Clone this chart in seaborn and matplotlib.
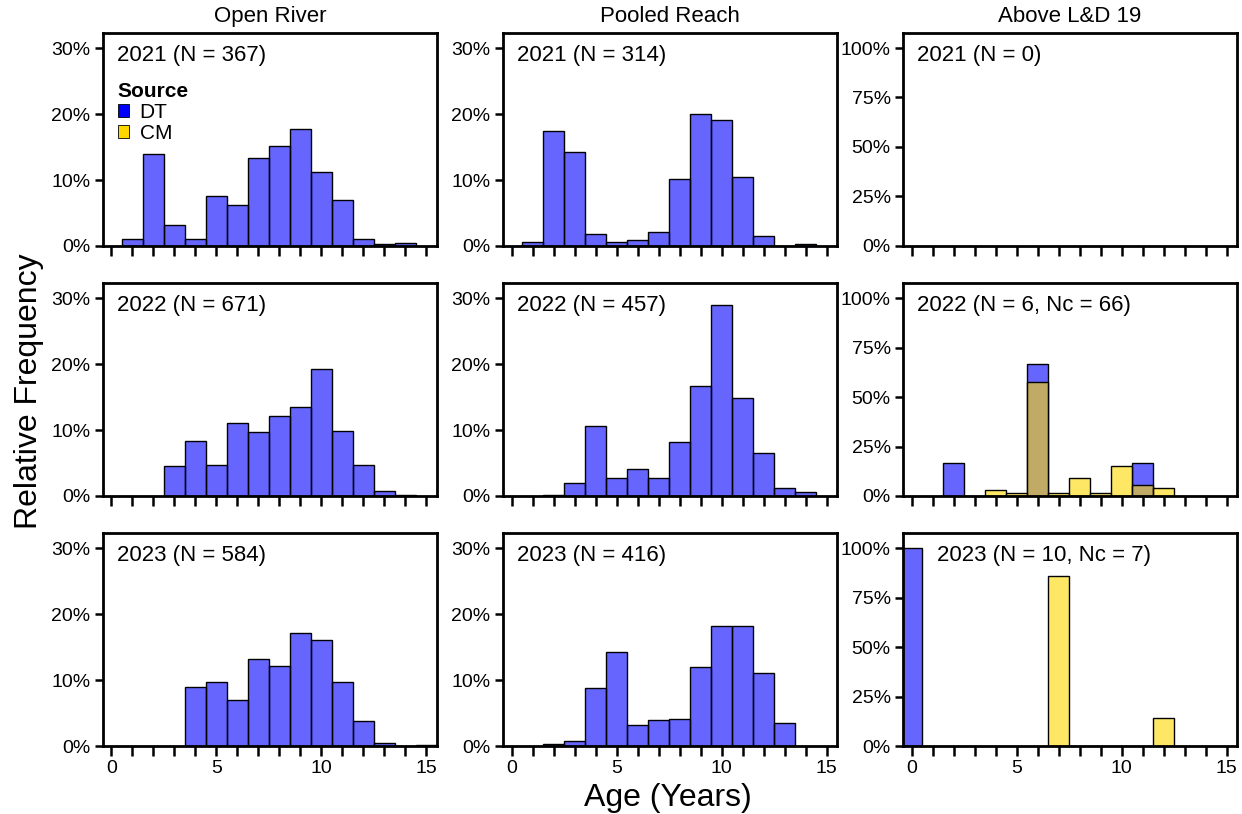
import numpy as np
import pandas as pd
import matplotlib
matplotlib.use('Agg')
import matplotlib.pyplot as plt
import seaborn as sns
from matplotlib.patches import Patch
from matplotlib.ticker import PercentFormatter, MultipleLocator

sns.set_style('white')
plt.rcParams['font.family'] = ['Liberation Sans', 'DejaVu Sans']
plt.rcParams['text.color'] = 'black'
plt.rcParams['axes.labelcolor'] = 'black'
plt.rcParams['xtick.color'] = 'black'
plt.rcParams['ytick.color'] = 'black'

# ages (years) and relative frequencies (%)
ages = list(range(0, 16))

open_2021 = [0, 1.0, 14.0, 3.2, 1.0, 7.6, 6.2, 13.3, 15.2, 17.7, 11.2, 7.0, 1.0, 0.3, 0.5, 0]
open_2022 = [0, 0, 0, 4.5, 8.3, 4.7, 11.0, 9.7, 12.1, 13.5, 19.2, 9.9, 4.7, 0.8, 0.15, 0]
open_2023 = [0, 0, 0, 0, 9.0, 9.7, 7.0, 13.2, 12.2, 17.2, 16.1, 9.7, 3.8, 0.4, 0, 0.2]

pooled_2021 = [0, 0.6, 17.5, 14.3, 1.8, 0.6, 0.9, 2.1, 10.1, 20.0, 19.1, 10.5, 1.5, 0, 0.3, 0]
pooled_2022 = [0, 0, 0.2, 1.9, 10.6, 2.7, 4.1, 2.7, 8.2, 16.7, 28.9, 14.9, 6.5, 1.2, 0.6, 0]
pooled_2023 = [0, 0, 0.3, 0.8, 8.8, 14.3, 3.2, 4.0, 4.1, 12.0, 18.2, 18.2, 11.0, 3.5, 0, 0]

# Above L&D 19: DT and CM (CM shown as yellow, overlaid)
above_2022_dt = [0, 0, 16.7, 0, 0, 0, 66.7, 0, 0, 0, 0, 16.7, 0, 0, 0, 0]
above_2022_cm = [0, 0, 0, 0, 3.0, 1.5, 57.6, 1.5, 9.1, 1.5, 15.2, 5.3, 4.0, 0, 0, 0]
above_2023_dt = [100.0, 0, 0, 0, 0, 0, 0, 0, 0, 0, 0, 0, 0, 0, 0, 0]
above_2023_cm = [0, 0, 0, 0, 0, 0, 0, 85.7, 0, 0, 0, 0, 14.3, 0, 0, 0]

columns = ['Open River', 'Pooled Reach', 'Above L&D 19']
labels = [['2021 (N = 367)', '2021 (N = 314)', '2021 (N = 0)'],
          ['2022 (N = 671)', '2022 (N = 457)', '2022 (N = 6, Nc = 66)'],
          ['2023 (N = 584)', '2023 (N = 416)', '2023 (N = 10, Nc = 7)']]

dt_data = [[open_2021, pooled_2021, None],
           [open_2022, pooled_2022, above_2022_dt],
           [open_2023, pooled_2023, above_2023_dt]]
cm_data = [[None, None, None],
           [None, None, above_2022_cm],
           [None, None, above_2023_cm]]

dt_color = '#0000FF'
cm_color = '#FFD700'

fig, axes = plt.subplots(3, 3, figsize=(12.42, 8.14), dpi=100)
fig.subplots_adjust(left=0.083, right=0.996, top=0.9595, bottom=0.0835,
                    wspace=0.198, hspace=0.174)


def draw(ax, vals, color):
    df = pd.DataFrame({'age': ages, 'freq': np.array(vals) / 100.0})
    df = df[df['freq'] > 0]
    sns.histplot(data=df, x='age', weights='freq', discrete=True, ax=ax,
                 color=color, alpha=0.6, edgecolor='black', linewidth=1.0)


for r in range(3):
    for c in range(3):
        ax = axes[r, c]
        if dt_data[r][c] is not None:
            draw(ax, dt_data[r][c], dt_color)
        if cm_data[r][c] is not None:
            draw(ax, cm_data[r][c], cm_color)

        ax.set_xlim(-0.4, 15.5)
        if c < 2:
            ax.set_ylim(0, 0.323)
            ax.yaxis.set_major_locator(MultipleLocator(0.10))
        else:
            ax.set_ylim(0, 1.076)
            ax.yaxis.set_major_locator(MultipleLocator(0.25))
        ax.yaxis.set_major_formatter(PercentFormatter(1.0, decimals=0))
        ax.xaxis.set_major_locator(MultipleLocator(5))
        ax.xaxis.set_minor_locator(MultipleLocator(1))
        ax.tick_params(axis='both', which='both', direction='out', color='black',
                       width=1.8, labelsize=14, bottom=True, left=True, pad=3)
        ax.tick_params(axis='x', which='both', length=7)
        ax.tick_params(axis='y', which='major', length=6)
        if r < 2:
            ax.tick_params(axis='x', labelbottom=False)
        ax.set_xlabel('')
        ax.set_ylabel('')
        for sp in ax.spines.values():
            sp.set_visible(True)
            sp.set_color('black')
            sp.set_linewidth(2)

        tx = 0.10 if (r == 2 and c == 2) else 0.042
        ax.text(tx, 0.895, labels[r][c], transform=ax.transAxes, fontsize=16,
                ha='left', va='center')

        if r == 0:
            ax.set_title(columns[c], fontsize=16, pad=8)

# legend in first panel
handles = [Patch(facecolor=dt_color, edgecolor='black', linewidth=0.6, label='DT'),
           Patch(facecolor=cm_color, edgecolor='black', linewidth=0.6, label='CM')]
leg = axes[0, 0].legend(handles=handles, title='Source', loc='upper left',
                        bbox_to_anchor=(0.0, 0.84), frameon=False, fontsize=15,
                        title_fontproperties={'weight': 'bold', 'size': 15},
                        handlelength=0.55, handleheight=0.55, handletextpad=0.5,
                        labelspacing=0.1, borderaxespad=0.3)
leg._legend_box.align = 'left'

fig.text(0.0235, 0.52, 'Relative Frequency', rotation=90, fontsize=23,
         ha='center', va='center')
fig.text(0.538, 0.02, 'Age (Years)', fontsize=23, ha='center', va='center')

fig.savefig('out.png', dpi=100)
